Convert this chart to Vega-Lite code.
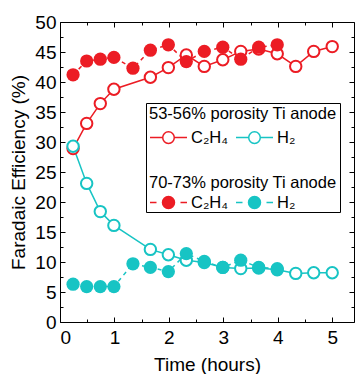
{
  "$schema": "https://vega.github.io/schema/vega-lite/v6.json",
  "width": 294,
  "height": 300,
  "autosize": {"type": "none"},
  "padding": {"left": 60, "top": 22, "right": 5, "bottom": 52},
  "background": "white",
  "config": {
    "font": "Liberation Sans",
    "view": {"stroke": "black", "strokeWidth": 1},
    "axis": {
      "grid": false,
      "domain": false,
      "ticks": true,
      "tickColor": "black",
      "tickWidth": 1,
      "labelColor": "black",
      "labelFontSize": 19,
      "labelFont": "Liberation Sans",
      "titleFont": "Liberation Sans",
      "titleFontSize": 19,
      "titleFontWeight": "normal",
      "titleColor": "black"
    },
    "legend": {
      "labelFont": "Liberation Sans",
      "titleFont": "Liberation Sans",
      "labelFontSize": 16.5,
      "titleFontSize": 16.5,
      "titleFontWeight": "normal",
      "titleColor": "black",
      "labelColor": "black",
      "titleLimit": 400,
      "labelLimit": 200
    }
  },
  "data": {
    "values": [
      {"t": 0.24, "v": 28.9, "gas": "C₂H₄", "por": "A"},
      {"t": 0.49, "v": 33.1, "gas": "C₂H₄", "por": "A"},
      {"t": 0.74, "v": 36.4, "gas": "C₂H₄", "por": "A"},
      {"t": 0.99, "v": 38.8, "gas": "C₂H₄", "por": "A"},
      {"t": 1.66, "v": 40.8, "gas": "C₂H₄", "por": "A"},
      {"t": 1.99, "v": 42.4, "gas": "C₂H₄", "por": "A"},
      {"t": 2.32, "v": 44.5, "gas": "C₂H₄", "por": "A"},
      {"t": 2.65, "v": 42.6, "gas": "C₂H₄", "por": "A"},
      {"t": 2.99, "v": 43.7, "gas": "C₂H₄", "por": "A"},
      {"t": 3.32, "v": 45.1, "gas": "C₂H₄", "por": "A"},
      {"t": 3.65, "v": 45.5, "gas": "C₂H₄", "por": "A"},
      {"t": 3.99, "v": 44.7, "gas": "C₂H₄", "por": "A"},
      {"t": 4.33, "v": 42.6, "gas": "C₂H₄", "por": "A"},
      {"t": 4.66, "v": 45.1, "gas": "C₂H₄", "por": "A"},
      {"t": 5.0, "v": 45.9, "gas": "C₂H₄", "por": "A"},
      {"t": 0.24, "v": 29.3, "gas": "H₂", "por": "A"},
      {"t": 0.49, "v": 23.1, "gas": "H₂", "por": "A"},
      {"t": 0.74, "v": 18.4, "gas": "H₂", "por": "A"},
      {"t": 0.99, "v": 16.1, "gas": "H₂", "por": "A"},
      {"t": 1.66, "v": 12.1, "gas": "H₂", "por": "A"},
      {"t": 1.99, "v": 11.2, "gas": "H₂", "por": "A"},
      {"t": 2.32, "v": 10.3, "gas": "H₂", "por": "A"},
      {"t": 2.65, "v": 9.9, "gas": "H₂", "por": "A"},
      {"t": 2.99, "v": 9.1, "gas": "H₂", "por": "A"},
      {"t": 3.32, "v": 8.9, "gas": "H₂", "por": "A"},
      {"t": 3.65, "v": 9.0, "gas": "H₂", "por": "A"},
      {"t": 3.99, "v": 8.7, "gas": "H₂", "por": "A"},
      {"t": 4.33, "v": 8.1, "gas": "H₂", "por": "A"},
      {"t": 4.66, "v": 8.2, "gas": "H₂", "por": "A"},
      {"t": 5.0, "v": 8.2, "gas": "H₂", "por": "A"},
      {"t": 0.24, "v": 41.2, "gas": "C₂H₄", "por": "B"},
      {"t": 0.49, "v": 43.5, "gas": "C₂H₄", "por": "B"},
      {"t": 0.74, "v": 43.8, "gas": "C₂H₄", "por": "B"},
      {"t": 0.99, "v": 44.1, "gas": "C₂H₄", "por": "B"},
      {"t": 1.34, "v": 42.3, "gas": "C₂H₄", "por": "B"},
      {"t": 1.66, "v": 45.3, "gas": "C₂H₄", "por": "B"},
      {"t": 1.99, "v": 46.2, "gas": "C₂H₄", "por": "B"},
      {"t": 2.32, "v": 43.4, "gas": "C₂H₄", "por": "B"},
      {"t": 2.65, "v": 45.1, "gas": "C₂H₄", "por": "B"},
      {"t": 2.99, "v": 45.8, "gas": "C₂H₄", "por": "B"},
      {"t": 3.32, "v": 43.8, "gas": "C₂H₄", "por": "B"},
      {"t": 3.65, "v": 45.8, "gas": "C₂H₄", "por": "B"},
      {"t": 3.99, "v": 46.2, "gas": "C₂H₄", "por": "B"},
      {"t": 0.24, "v": 6.3, "gas": "H₂", "por": "B"},
      {"t": 0.49, "v": 5.9, "gas": "H₂", "por": "B"},
      {"t": 0.74, "v": 5.9, "gas": "H₂", "por": "B"},
      {"t": 0.99, "v": 5.9, "gas": "H₂", "por": "B"},
      {"t": 1.34, "v": 9.7, "gas": "H₂", "por": "B"},
      {"t": 1.66, "v": 9.1, "gas": "H₂", "por": "B"},
      {"t": 1.99, "v": 8.4, "gas": "H₂", "por": "B"},
      {"t": 2.32, "v": 11.4, "gas": "H₂", "por": "B"},
      {"t": 2.65, "v": 10.1, "gas": "H₂", "por": "B"},
      {"t": 2.99, "v": 9.1, "gas": "H₂", "por": "B"},
      {"t": 3.32, "v": 10.3, "gas": "H₂", "por": "B"},
      {"t": 3.65, "v": 9.1, "gas": "H₂", "por": "B"},
      {"t": 3.99, "v": 8.9, "gas": "H₂", "por": "B"}
    ]
  },
  "layer": [
    {
      "transform": [{"filter": "datum.por == 'A'"}],
      "encoding": {
        "x": {
          "field": "t", "type": "quantitative",
          "scale": {"domain": [0, 5.4], "nice": false, "zero": false},
          "axis": {
            "orient": "bottom",
            "values": [0, 0.5, 1, 1.5, 2, 2.5, 3, 3.5, 4, 4.5, 5],
            "labelExpr": "datum.value % 1 == 0 ? format(datum.value, 'd') : ''",
            "tickSize": {"condition": {"test": "datum.value % 1 != 0", "value": -3}, "value": -5},
            "labelPadding": 11,
            "title": "Time (hours)",
            "titlePadding": 8
          }
        },
        "y": {
          "field": "v", "type": "quantitative",
          "scale": {"domain": [0, 50], "nice": false},
          "axis": {
            "orient": "left",
            "values": [0, 2.5, 5, 7.5, 10, 12.5, 15, 17.5, 20, 22.5, 25, 27.5, 30, 32.5, 35, 37.5, 40, 42.5, 45, 47.5, 50],
            "labelExpr": "datum.value % 5 == 0 ? format(datum.value, 'd') : ''",
            "tickSize": {"condition": {"test": "datum.value % 5 != 0", "value": -3}, "value": -5},
            "labelPadding": 9,
            "title": "Faradaic Efficiency (%)",
            "titlePadding": 6
          }
        },
        "color": {
          "field": "gas", "type": "nominal",
          "scale": {"domain": ["C₂H₄", "H₂", " ", "  "], "range": ["#ec1c24", "#17c4c4", "#ffffff", "#ffffff"]},
          "legend": {
            "title": "53-56% porosity Ti anode",
            "orient": "none",
            "legendX": 86,
            "legendY": 81,
            "direction": "horizontal",
            "columns": 2,
            "symbolType": "M-1.85,0L-0.58,0M0.58,0L1.85,0M-0.58,0A0.58,0.58,0,1,1,0.58,0A0.58,0.58,0,1,1,-0.58,0Z",
            "symbolSize": 400,
            "symbolOffset": 8.5,
            "symbolStrokeWidth": 1.5,
            "strokeColor": "black",
            "padding": 3,
            "rowPadding": 42,
            "columnPadding": 5,
            "labelOffset": 11.5,
            "titlePadding": 4,
            "encode": {
              "symbols": {
                "update": {
                  "fill": {"signal": "datum.value == 'C₂H₄' || datum.value == 'H₂' ? 'white' : 'transparent'"},
                  "stroke": {"signal": "datum.value == 'H₂' ? '#17c4c4' : (datum.value == 'C₂H₄' ? '#ec1c24' : 'transparent')"},
                  "opacity": {"value": 1}
                }
              }
            }
          }
        }
      },
      "layer": [
        {"mark": {"type": "line", "strokeWidth": 1.5}},
        {"mark": {"type": "point", "shape": "circle", "filled": false, "fill": "white", "size": 130, "strokeWidth": 2, "opacity": 1}}
      ]
    },
    {
      "transform": [{"filter": "datum.por == 'B'"}],
      "encoding": {
        "x": {
          "field": "t", "type": "quantitative",
          "axis": {
            "orient": "top",
            "values": [0, 0.5, 1, 1.5, 2, 2.5, 3, 3.5, 4, 4.5, 5],
            "labels": false,
            "tickSize": {"condition": {"test": "datum.value % 1 != 0", "value": -3}, "value": -5},
            "title": null
          }
        },
        "y": {
          "field": "v", "type": "quantitative",
          "axis": {
            "orient": "right",
            "values": [0, 2.5, 5, 7.5, 10, 12.5, 15, 17.5, 20, 22.5, 25, 27.5, 30, 32.5, 35, 37.5, 40, 42.5, 45, 47.5, 50],
            "labels": false,
            "tickSize": {"condition": {"test": "datum.value % 5 != 0", "value": -3}, "value": -5},
            "title": null
          }
        },
        "color": {
          "field": "gas", "type": "nominal",
          "scale": {"domain": ["C₂H₄", "H₂"], "range": ["#ec1c24", "#17c4c4"]},
          "legend": {
            "title": "70-73% porosity Ti anode",
            "orient": "none",
            "legendX": 86,
            "legendY": 150,
            "direction": "horizontal",
            "columns": 2,
            "symbolType": "M-1.85,0L-1.2,0M1.2,0L1.85,0M-0.6,0A0.6,0.6,0,1,1,0.6,0A0.6,0.6,0,1,1,-0.6,0Z",
            "symbolSize": 400,
            "symbolOffset": 8.5,
            "symbolStrokeWidth": 1.5,
            "padding": 3,
            "columnPadding": 5,
            "labelOffset": 11.5,
            "titlePadding": 0,
            "encode": {
              "symbols": {
                "update": {
                  "fill": {"signal": "datum.value == 'H₂' ? '#17c4c4' : '#ec1c24'"},
                  "stroke": {"signal": "datum.value == 'H₂' ? '#17c4c4' : '#ec1c24'"},
                  "opacity": {"value": 1}
                }
              }
            }
          }
        }
      },
      "layer": [
        {"mark": {"type": "line", "strokeWidth": 1.5, "strokeDash": [4, 4]}},
        {"mark": {"type": "point", "shape": "circle", "filled": true, "size": 175, "opacity": 1}}
      ]
    }
  ],
  "resolve": {"scale": {"color": "independent"}, "axis": {"x": "independent", "y": "independent"}}
}
